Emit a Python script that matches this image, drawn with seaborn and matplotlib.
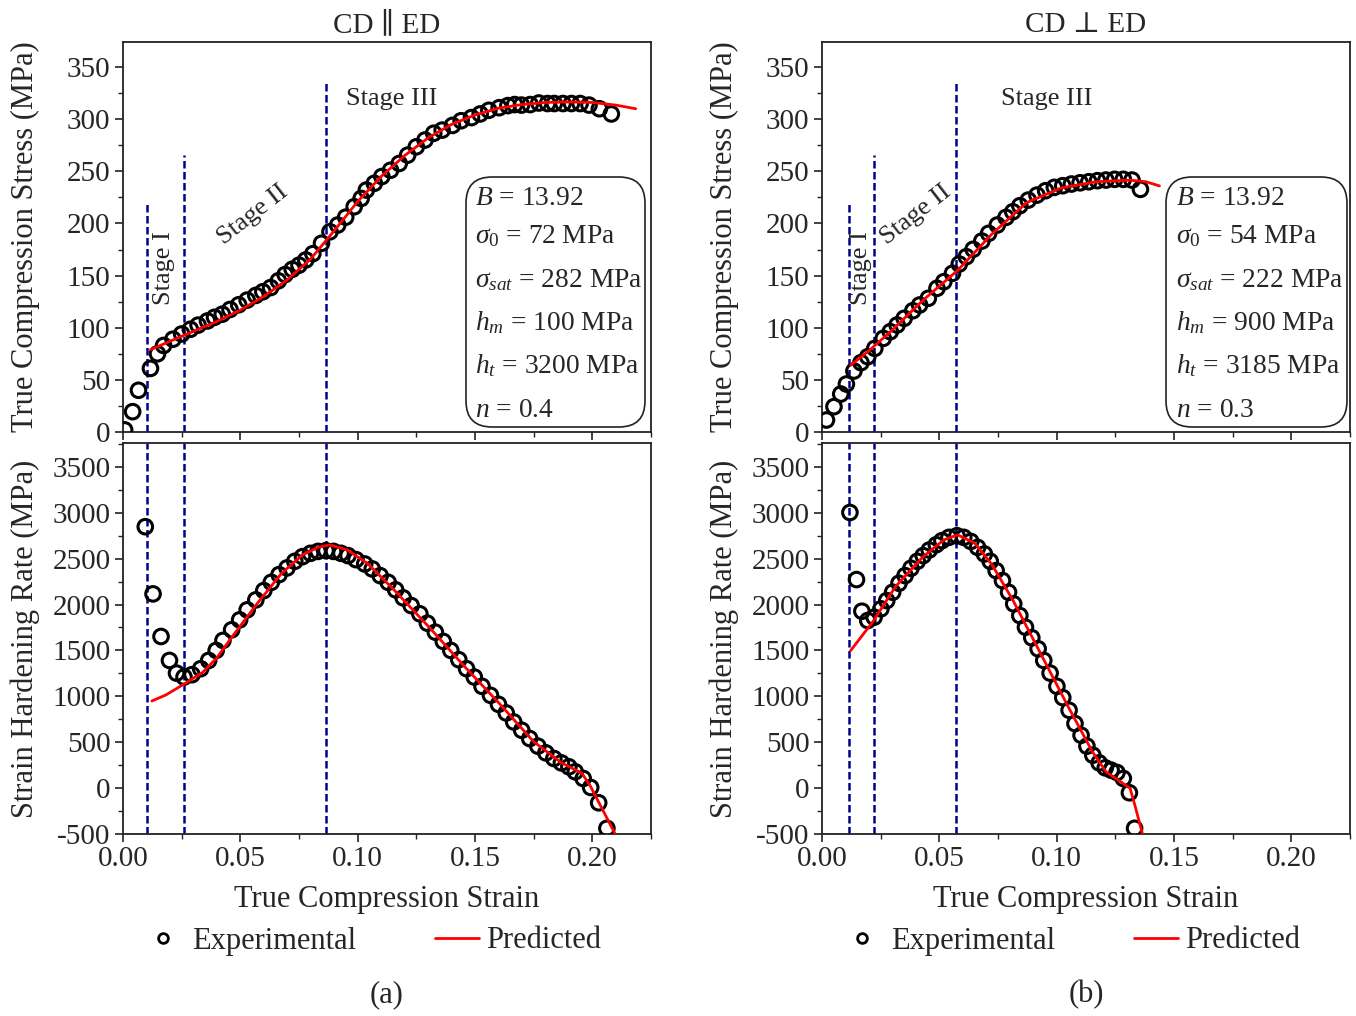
import numpy as np
import pandas as pd
import matplotlib
matplotlib.use("Agg")
import matplotlib.pyplot as plt
import seaborn as sns
from matplotlib.lines import Line2D
from matplotlib.patches import FancyBboxPatch
from matplotlib.ticker import MultipleLocator, FormatStrFormatter

# ---------------- data: panel (a) CD || ED ----------------
a_ss_exp_x = [0.0007, 0.0041, 0.0066, 0.0117, 0.0147, 0.0173, 0.0213, 0.0250, 0.0287, 0.0320,
              0.0360, 0.0390, 0.0423, 0.0456, 0.0493, 0.0529, 0.0566, 0.0596, 0.0629, 0.0662,
              0.0691, 0.0721, 0.0750, 0.0779, 0.0809, 0.0846, 0.0882, 0.0915, 0.0949, 0.0985,
              0.1015, 0.1037, 0.1071, 0.1103, 0.1140, 0.1177, 0.1213, 0.1250, 0.1287, 0.1324,
              0.1360, 0.1404, 0.1441, 0.1485, 0.1522, 0.1559, 0.1603, 0.1640, 0.1669, 0.1698,
              0.1735, 0.1772, 0.1809, 0.1838, 0.1875, 0.1911, 0.1948, 0.1986, 0.2030, 0.2081]
a_ss_exp_y = [2, 19.5, 40, 61, 75, 83, 89, 94, 98.5, 102.5,
              106.5, 110, 113, 117.5, 122, 126.5, 131, 134.5, 138.5, 145,
              151, 156, 160, 165, 171, 181, 192, 198.5, 206, 216,
              224, 232, 238.5, 245, 251, 257.5, 265.5, 273.5, 280, 286.5,
              289.5, 294, 298.5, 301.5, 305, 308.5, 311, 313, 314, 313.5,
              314, 315.5, 315, 315, 315, 315, 315, 313.5, 310, 305]
a_ss_pred_x = [0.0118, 0.020, 0.030, 0.040, 0.050, 0.060, 0.070, 0.080, 0.090, 0.100, 0.110,
               0.120, 0.130, 0.140, 0.150, 0.160, 0.170, 0.180, 0.190, 0.200, 0.210, 0.2185]
a_ss_pred_y = [79, 87, 96.5, 106, 117, 130, 146, 166, 193, 221, 245,
               265, 282, 295, 304, 310.5, 314, 316, 316.5, 316, 313.5, 310]

a_hr_exp_x = [0.0095, 0.0128, 0.0162, 0.0198, 0.0228, 0.0260, 0.0294, 0.0331, 0.0365, 0.0397,
              0.0426, 0.0463, 0.0497, 0.0529, 0.0566, 0.0600, 0.0632, 0.0665, 0.0699, 0.0732,
              0.0765, 0.0799, 0.0831, 0.0865, 0.0897, 0.0929, 0.0959, 0.0993, 0.1030, 0.1062,
              0.1096, 0.1130, 0.1162, 0.1194, 0.1228, 0.1265, 0.1297, 0.1331, 0.1365, 0.1397,
              0.1431, 0.1464, 0.1497, 0.1530, 0.1566, 0.1600, 0.1633, 0.1665, 0.1699, 0.1733,
              0.1768, 0.1802, 0.1836, 0.1868, 0.1900, 0.1927, 0.1961, 0.1993, 0.2027, 0.2062]
a_hr_exp_y = [2848, 2116, 1652, 1391, 1253, 1210, 1236, 1301, 1391, 1500,
              1609, 1725, 1833, 1942, 2051, 2152, 2242, 2326, 2399, 2471,
              2522, 2558, 2579, 2587, 2579, 2558, 2533, 2489, 2442, 2388,
              2315, 2242, 2160, 2073, 1989, 1899, 1797, 1699, 1598, 1500,
              1399, 1301, 1210, 1109, 1011, 913, 819, 721, 630, 540,
              457, 384, 323, 275, 232, 178, 105, 7, -160, -438]
a_hr_pred_x = [0.0123, 0.0183, 0.0261, 0.0339, 0.0400, 0.0471, 0.0573, 0.0676, 0.0765, 0.0831,
               0.0882, 0.0956, 0.1044, 0.1162, 0.1309, 0.1456, 0.1603, 0.1750, 0.1868, 0.1956,
               0.1993, 0.2096]
a_hr_pred_y = [949, 1015, 1135, 1260, 1420, 1670, 2014, 2341, 2541, 2624,
               2650, 2595, 2443, 2141, 1741, 1323, 924, 506, 277, 161,
               15, -493]
a_stage_bounds = [0.0103, 0.0262, 0.0864]
a_params = [r"$B$ = 13.92", r"$\sigma_{\mathit{0}}$ = 72 MPa", r"$\sigma_{sat}$ = 282 MPa",
            r"$h_{m}$ = 100 MPa", r"$h_{t}$ = 3200 MPa", r"$n$ = 0.4"]

# ---------------- data: panel (b) CD ⊥ ED ----------------
b_ss_exp_x = [0.0019, 0.0051, 0.0080, 0.0104, 0.0136, 0.0166, 0.0195, 0.0225, 0.0261, 0.0291,
              0.0320, 0.0350, 0.0387, 0.0416, 0.0453, 0.0490, 0.0519, 0.0556, 0.0585, 0.0615,
              0.0644, 0.0681, 0.0710, 0.0747, 0.0784, 0.0813, 0.0843, 0.0879, 0.0916, 0.0953,
              0.0990, 0.1026, 0.1063, 0.1100, 0.1137, 0.1174, 0.1210, 0.1247, 0.1284, 0.1321,
              0.1357]
b_ss_exp_y = [11.5, 24.3, 36.4, 46, 58.5, 66.5, 72.2, 80.2, 89.8, 96.2,
              102.6, 109, 116.3, 121.8, 128.2, 137.8, 144.1, 152.2, 161.1, 168.1,
              175.2, 183.1, 190.5, 198.5, 205.8, 211.2, 217, 222.4, 227.2, 231.4,
              234.6, 236.2, 237.8, 239, 240, 241, 241.6, 242.3, 242.3, 241.6,
              232.7]
b_ss_pred_x = [0.0122, 0.0200, 0.0284, 0.0431, 0.0578, 0.0725, 0.0872, 0.1019, 0.1166, 0.1313,
               0.1380, 0.1438]
b_ss_pred_y = [64, 78, 94.5, 126.5, 155, 190, 220, 234, 240, 241.5,
               240, 236]

b_hr_exp_x = [0.0119, 0.0147, 0.0170, 0.0195, 0.0222, 0.0251, 0.0276, 0.0301, 0.0328, 0.0354,
              0.0379, 0.0406, 0.0431, 0.0457, 0.0487, 0.0511, 0.0541, 0.0575, 0.0604, 0.0634,
              0.0663, 0.0692, 0.0717, 0.0742, 0.0769, 0.0795, 0.0817, 0.0843, 0.0867, 0.0894,
              0.0921, 0.0945, 0.0972, 0.1001, 0.1026, 0.1053, 0.1078, 0.1104, 0.1129, 0.1154,
              0.1181, 0.1207, 0.1232, 0.1257, 0.1284, 0.1310, 0.1332]
b_hr_exp_y = [3003, 2272, 1927, 1826, 1862, 1953, 2043, 2134, 2232, 2315,
              2395, 2471, 2533, 2594, 2652, 2696, 2732, 2750, 2732, 2688,
              2623, 2551, 2471, 2370, 2261, 2134, 2007, 1880, 1753, 1638,
              1518, 1391, 1253, 1109, 986, 848, 703, 576, 457, 359,
              275, 221, 196, 170, 105, -51, -438]
b_hr_pred_x = [0.0122, 0.0217, 0.0313, 0.0431, 0.0519, 0.0578, 0.0651, 0.0725, 0.0813, 0.0931,
               0.1049, 0.1152, 0.1210, 0.1313, 0.1335, 0.1365]
b_hr_pred_y = [1498, 1814, 2195, 2522, 2704, 2759, 2668, 2432, 2050, 1469,
               887, 397, 179, -2, -203, -493]
b_stage_bounds = [0.0114, 0.0220, 0.0570]
b_params = [r"$B$ = 13.92", r"$\sigma_{\mathit{0}}$ = 54 MPa", r"$\sigma_{sat}$ = 222 MPa",
            r"$h_{m}$ = 900 MPa", r"$h_{t}$ = 3185 MPa", r"$n$ = 0.3"]

stage_line_tops = [222, 266, 338]
stage_names = ["Stage I", "Stage II", "Stage III"]
titles = ["CD \u2225 ED", "CD \u22a5 ED"]
subcaptions = ["(a)", "(b)"]

# ---------------- style ----------------
sns.set_theme(style="ticks")
plt.rcParams["font.family"] = ["Liberation Serif", "DejaVu Serif"]
plt.rcParams["mathtext.fontset"] = "custom"
plt.rcParams["mathtext.rm"] = "Liberation Serif"
plt.rcParams["mathtext.it"] = "Liberation Serif:italic"
plt.rcParams["mathtext.bf"] = "Liberation Serif:bold"
plt.rcParams["axes.edgecolor"] = "#222222"
plt.rcParams["axes.linewidth"] = 1.3
plt.rcParams["axes.unicode_minus"] = False

FS_TICK = 21
FS_LABEL = 22
FS_TEXT = 19.8
NAVY = "#00008B"

fig = plt.figure(figsize=(13.56, 10.16), dpi=100)
W, H = 1356.0, 1016.0

def px_axes(x0, y0, x1, y1):
    return fig.add_axes([x0 / W, 1 - y1 / H, (x1 - x0) / W, (y1 - y0) / H])

cols = [
    dict(x0=123, ss=(a_ss_exp_x, a_ss_exp_y, a_ss_pred_x, a_ss_pred_y),
         hr=(a_hr_exp_x, a_hr_exp_y, a_hr_pred_x, a_hr_pred_y),
         bounds=a_stage_bounds, params=a_params,
         stage_pos=[(0.0176, 157, 90), (0.0555, 208, 38), (0.1144, 319, 0)],
         box=(466, 177, 645, 427), text_x=475),
    dict(x0=822, ss=(b_ss_exp_x, b_ss_exp_y, b_ss_pred_x, b_ss_pred_y),
         hr=(b_hr_exp_x, b_hr_exp_y, b_hr_pred_x, b_hr_pred_y),
         bounds=b_stage_bounds, params=b_params,
         stage_pos=[(0.0167, 157, 90), (0.0398, 208, 38), (0.0956, 319, 0)],
         box=(1166, 177, 1347, 427), text_x=1176),
]

param_baselines = [205, 243.3, 286.7, 330, 373.3, 416.7]

def style_axis(ax, ymajor, yminor):
    ax.set_xlim(0, 0.225)
    ax.xaxis.set_major_locator(MultipleLocator(0.05))
    ax.xaxis.set_minor_locator(MultipleLocator(0.025))
    ax.yaxis.set_major_locator(MultipleLocator(ymajor))
    ax.yaxis.set_minor_locator(MultipleLocator(yminor))
    ax.tick_params(which="major", direction="out", length=6, width=1.2,
                   labelsize=FS_TICK, color="#222222", pad=3)
    ax.tick_params(which="minor", direction="out", length=3.5, width=1.0, color="#222222")
    ax.tick_params(top=False, right=False, which="both")
    for s in ax.spines.values():
        s.set_visible(True)

for i, c in enumerate(cols):
    x0 = c["x0"]
    ax_t = px_axes(x0, 42, x0 + 528, 432)
    ax_b = px_axes(x0, 443, x0 + 528, 834)

    # ---- stress-strain ----
    ex, ey, pxv, pyv = c["ss"]
    sns.scatterplot(x=ex, y=ey, ax=ax_t, marker="o", s=110, facecolor="none",
                    edgecolor="black", linewidth=2.2, zorder=3)
    sns.lineplot(x=pxv, y=pyv, ax=ax_t, color="red", linewidth=2.0, zorder=4,
                 estimator=None, sort=False)
    ax_t.set_ylim(0, 374)
    style_axis(ax_t, 50, 25)
    ax_t.tick_params(labelbottom=False)
    ax_t.set_ylabel("True Compression Stress (MPa)", fontsize=FS_LABEL)
    ax_t.yaxis.set_label_coords(-0.158, 0.5)
    ax_t.set_xlabel("")
    ax_t.set_title(titles[i], fontsize=FS_TICK, pad=7)
    for b, top in zip(c["bounds"], stage_line_tops):
        ax_t.vlines(b, 0, top, colors=NAVY, linewidth=1.8,
                    linestyles=(0, (3, 1.4)), zorder=2)
    for name, (sx, sy, rot) in zip(stage_names, c["stage_pos"]):
        ax_t.text(sx, sy, name, rotation=rot, ha="center", va="center",
                  fontsize=19, rotation_mode="anchor")

    # parameter box
    bx0, by0, bx1, by1 = c["box"]
    fig.add_artist(FancyBboxPatch((bx0 / 100, (H - by1) / 100), (bx1 - bx0) / 100,
                                  (by1 - by0) / 100,
                                  boxstyle="round,pad=0,rounding_size=0.26",
                                  transform=fig.dpi_scale_trans, fc="none",
                                  ec="#222222", lw=1.2))
    for txt, yb in zip(c["params"], param_baselines):
        fig.text(c["text_x"] / W, 1 - yb / H, txt, fontsize=FS_TEXT,
                 ha="left", va="baseline")

    # ---- hardening rate ----
    ex, ey, pxv, pyv = c["hr"]
    sns.scatterplot(x=ex, y=ey, ax=ax_b, marker="o", s=110, facecolor="none",
                    edgecolor="black", linewidth=2.2, zorder=3)
    sns.lineplot(x=pxv, y=pyv, ax=ax_b, color="red", linewidth=2.0, zorder=4,
                 estimator=None, sort=False)
    ax_b.set_ylim(-500, 3760)
    style_axis(ax_b, 500, 250)
    ax_b.set_ylabel("Strain Hardening Rate (MPa)", fontsize=FS_LABEL)
    ax_b.yaxis.set_label_coords(-0.158, 0.5)
    ax_b.set_xlabel("True Compression Strain", fontsize=FS_LABEL)
    ax_b.xaxis.set_label_coords(0.5, -0.13)
    ax_b.xaxis.set_major_formatter(FormatStrFormatter("%.2f"))
    for b in c["bounds"]:
        ax_b.axvline(b, color=NAVY, linewidth=1.8, linestyle=(0, (3, 1.4)), zorder=2)

    # legend
    handles = [Line2D([], [], marker="o", linestyle="none", markersize=7,
                      markerfacecolor="none", markeredgecolor="black", markeredgewidth=2),
               Line2D([], [], color="red", linewidth=2.0)]
    cx = (x0 + 248) / W
    fig.legend(handles, ["Experimental", "Predicted"], ncol=2, loc="center",
               bbox_to_anchor=(cx, 1 - 941 / H), frameon=False, fontsize=FS_LABEL,
               handlelength=1.45, handletextpad=0.25, columnspacing=2.55)
    fig.text((x0 + 264) / W, 1 - 995 / H, subcaptions[i], fontsize=FS_LABEL,
             ha="center", va="center")

fig.savefig("out.png", dpi=100)
